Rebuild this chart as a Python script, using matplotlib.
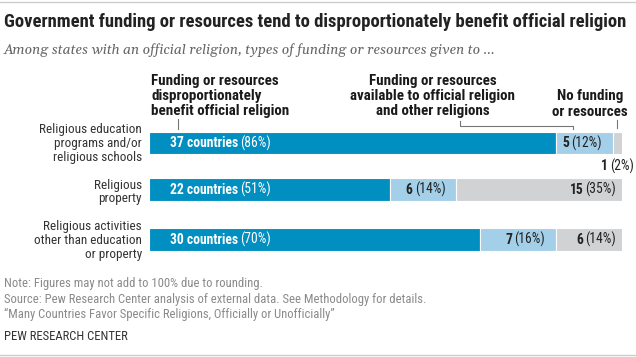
import matplotlib
matplotlib.use('Agg')
import matplotlib.pyplot as plt
from matplotlib import font_manager

# data
categories = ['Religious education\nprograms and/or\nreligious schools',
              'Religious\nproperty',
              'Religious activities\nother than education\nor property']
disprop_n = [37, 22, 30]
disprop_pct = [86, 51, 70]
shared_n = [5, 6, 7]
shared_pct = [12, 14, 16]
none_n = [1, 15, 6]
none_pct = [2, 35, 14]

names = set(f.name for f in font_manager.fontManager.ttflist)


def pick(cands):
    for c in cands:
        if c in names:
            return c
    return cands[-1]


sans = pick(['Roboto Condensed', 'PT Sans Narrow', 'Liberation Sans Narrow', 'DejaVu Sans'])
serif = pick(['Gelasio', 'PT Serif', 'Liberation Serif', 'DejaVu Serif'])
plt.rcParams['font.family'] = [sans, 'DejaVu Sans']

W, H = 636, 357
fig = plt.figure(figsize=(W / 100, H / 100), dpi=100)

# bar axes: x from 149 to 622 px, y in pixels
bx0, bx1 = 149, 622
ax = fig.add_axes([bx0 / W, 0, (bx1 - bx0) / W, 1])
ax.set_xlim(0, 100)
ax.set_ylim(H, 0)
ax.axis('off')

# overlay axes in pixel coords for text
bg = fig.add_axes([0, 0, 1, 1])
bg.set_xlim(0, W)
bg.set_ylim(H, 0)
bg.axis('off')
bg.set_zorder(3)

ypos = [143, 189.5, 239.5]
bh = 22.5
dark = '#008fc0'
light = '#a3cfe9'
grey = '#d1d2d4'

left2 = [a + b for a, b in zip(disprop_pct, shared_pct)]
ax.barh(ypos, disprop_pct, height=bh, color=dark, edgecolor='white', linewidth=0.8)
ax.barh(ypos, shared_pct, left=disprop_pct, height=bh, color=light, edgecolor='white', linewidth=0.8)
ax.barh(ypos, none_pct, left=left2, height=bh, color=grey, edgecolor='white', linewidth=0.8)

fig.canvas.draw()
renderer = fig.canvas.get_renderer()

fs = 9.8


def pair(x, y, bold, normal, color, align='right'):
    # x, y in pixels on bg
    if align == 'right':
        t2 = bg.text(x, y, normal, ha='right', va='center', fontsize=fs, color=color)
        w = t2.get_window_extent(renderer).width
        bg.text(x - w - 2, y, bold, ha='right', va='center', fontsize=fs,
                color=color, fontweight='bold')
    else:
        t1 = bg.text(x, y, bold, ha='left', va='center', fontsize=fs,
                     color=color, fontweight='bold')
        w = t1.get_window_extent(renderer).width
        bg.text(x + w + 2, y, normal, ha='left', va='center', fontsize=fs, color=color)


def px(v):
    return bx0 + v / 100 * (bx1 - bx0)


label_y = [143.5, 192, 240.5]
for i in range(3):
    pair(170, ypos[i], '%d countries' % disprop_n[i], '(%d%%)' % disprop_pct[i],
         'white', align='left')
    pair(px(left2[i]) - 11, ypos[i], str(shared_n[i]), '(%d%%)' % shared_pct[i], '#222222')
    if none_pct[i] >= 10:
        pair(px(100) - 6, ypos[i], str(none_n[i]), '(%d%%)' % none_pct[i], '#222222')
    else:
        pair(634, ypos[i] + 23, str(none_n[i]), '(%d%%)' % none_pct[i], '#222222')
    bg.text(142, label_y[i], categories[i], ha='right', va='center', fontsize=9.5,
            color='#333333', linespacing=1.08)

# column headers
hcol = '#1a1a1a'
bg.text(151, 96, 'Funding or resources\ndisproportionately\nbenefit official religion',
        ha='left', va='center', fontsize=10.8, fontweight='bold', color=hcol, linespacing=1.13)
bg.text(433, 96, 'Funding or resources\navailable to official religion\nand other religions',
        ha='center', va='center', fontsize=10.8, fontweight='bold', color=hcol, linespacing=1.13)
bg.text(590, 104, 'No funding\nor resources', ha='center', va='center', fontsize=10.8,
        fontweight='bold', color=hcol, linespacing=1.13)

lc = '#777777'
bg.plot([178, 178], [119, 129], color=lc, lw=0.8)
bg.plot([460, 460, 573, 573], [121, 126, 126, 129], color=lc, lw=0.8)
bg.plot([617, 617], [120, 128], color=lc, lw=0.8)

# title and subtitle
bg.text(4, 22, 'Government funding or resources tend to disproportionately benefit official religion',
        ha='left', va='center', fontsize=13.4, fontweight='bold', color='#222222')
bg.text(4, 50, 'Among states with an official religion, types of funding or resources given to ...',
        ha='left', va='center', fontsize=10, style='italic', color='#666666',
        family=[serif, 'DejaVu Serif'])

# notes
nc = '#8a8a8a'
bg.text(4, 284, 'Note: Figures may not add to 100% due to rounding.', ha='left', va='center',
        fontsize=9.1, color=nc)
bg.text(4, 299, 'Source: Pew Research Center analysis of external data. See Methodology for details.',
        ha='left', va='center', fontsize=9.1, color=nc)
bg.text(4, 314, '\u201cMany Countries Favor Specific Religions, Officially or Unofficially\u201d',
        ha='left', va='center', fontsize=9.1, color=nc)
bg.text(4, 336, 'PEW RESEARCH CENTER', ha='left', va='center', fontsize=9.1, color='#333333')

bg.plot([0, W], [2, 2], color='#cccccc', lw=1)
bg.plot([0, W], [355, 355], color='#cccccc', lw=1)

fig.savefig('out.png', dpi=100)
